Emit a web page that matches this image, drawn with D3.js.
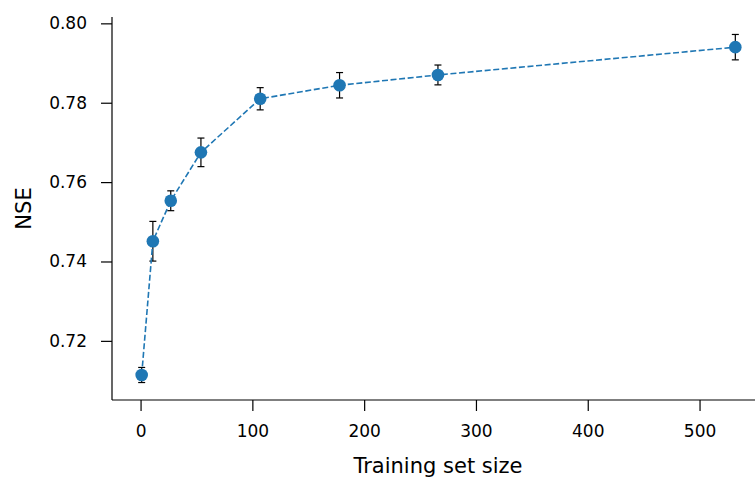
<!DOCTYPE html>
<html>
<head>
<meta charset="utf-8">
<script src="https://cdn.jsdelivr.net/npm/d3@7"></script>
<style>
  body { margin: 0; background: #fff; }
  svg text { font-family: "DejaVu Sans", sans-serif; fill: #000; }
</style>
</head>
<body>
<div id="chart"></div>
<script>
// training set sizes and mean NSE with spread
const sizes = [1, 11, 27, 54, 107, 178, 266, 532];
const nse = [0.7114, 0.7451, 0.7553, 0.7675, 0.7810, 0.7844, 0.7870, 0.7940];
const nseErr = [0.0019, 0.0050, 0.0025, 0.0036, 0.0028, 0.0032, 0.0025, 0.0032];
const xTicks = [0, 100, 200, 300, 400, 500];
const yTicks = [0.72, 0.74, 0.76, 0.78, 0.80];

const width = 755, height = 477;
const plotLeft = 112, plotTop = 17, plotBottom = 400, plotRight = 765;

let svg = d3.select('#chart')
  .append('svg')
  .attr('width', width)
  .attr('height', height);

let x = d3.scaleLinear().domain([-25.55, 558.55]).range([plotLeft, plotRight]);
let y = d3.scaleLinear().domain([0.7051, 0.8016]).range([plotBottom, plotTop]);

// axes
let xAxis = svg.append('g')
  .attr('transform', `translate(0,${plotBottom})`)
  .call(d3.axisBottom(x).tickValues(xTicks).tickSize(11).tickPadding(14).tickFormat(d3.format('d')));
let yAxis = svg.append('g')
  .attr('transform', `translate(${plotLeft},0)`)
  .call(d3.axisLeft(y).tickValues(yTicks).tickSize(11).tickPadding(14).tickFormat(d3.format('.2f')));

[xAxis, yAxis].forEach(function (a)
{
  a.selectAll('.domain').remove();
  a.selectAll('line').attr('stroke', '#000').attr('stroke-width', 1.2);
  a.selectAll('text').style('font-size', '17px').attr('font-family', 'DejaVu Sans');
});

// spines
svg.append('line')
  .attr('x1', plotLeft).attr('x2', plotLeft).attr('y1', plotTop).attr('y2', plotBottom)
  .attr('stroke', '#000').attr('stroke-width', 1.2);
svg.append('line')
  .attr('x1', plotLeft).attr('x2', plotRight).attr('y1', plotBottom).attr('y2', plotBottom)
  .attr('stroke', '#000').attr('stroke-width', 1.2);

// axis labels
svg.append('text')
  .attr('x', 438)
  .attr('y', 473)
  .attr('text-anchor', 'middle')
  .style('font-size', '21px')
  .text('Training set size');
svg.append('text')
  .attr('transform', `translate(31,${(plotTop + plotBottom) / 2}) rotate(-90)`)
  .attr('text-anchor', 'middle')
  .style('font-size', '21px')
  .text('NSE');

let pts = sizes.map((s, i) => ({ s: s, v: nse[i], e: nseErr[i] }));

// error bars
let eb = svg.append('g').attr('stroke', '#000').attr('stroke-width', 1.2);
pts.forEach(function (d)
{
  let cx = x(d.s);
  eb.append('line').attr('x1', cx).attr('x2', cx).attr('y1', y(d.v - d.e)).attr('y2', y(d.v + d.e));
  eb.append('line').attr('x1', cx - 3.5).attr('x2', cx + 3.5).attr('y1', y(d.v - d.e)).attr('y2', y(d.v - d.e));
  eb.append('line').attr('x1', cx - 3.5).attr('x2', cx + 3.5).attr('y1', y(d.v + d.e)).attr('y2', y(d.v + d.e));
});

// dashed line
svg.append('path')
  .datum(pts)
  .attr('fill', 'none')
  .attr('stroke', '#1f77b4')
  .attr('stroke-width', 1.6)
  .attr('stroke-dasharray', '6,2.6')
  .attr('d', d3.line().x(d => x(d.s)).y(d => y(d.v)));

// markers
svg.append('g')
  .selectAll('circle')
  .data(pts)
  .enter()
  .append('circle')
  .attr('cx', d => x(d.s))
  .attr('cy', d => y(d.v))
  .attr('r', 6.3)
  .attr('fill', '#1f77b4');
</script>
</body>
</html>
